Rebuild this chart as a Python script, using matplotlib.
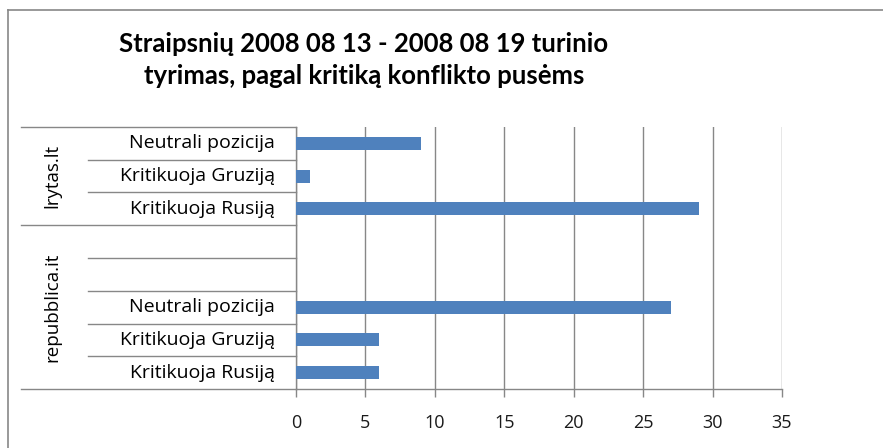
import matplotlib
matplotlib.use("Agg")
import matplotlib.pyplot as plt
from matplotlib.lines import Line2D
from matplotlib.transforms import blended_transform_factory

plt.rcParams['font.family'] = ['Open Sans', 'DejaVu Sans']

# data, top to bottom as in the chart
groups = ["lrytas.lt", "repubblica.it"]
group_sizes = [3, 5]
categories = ["Neutrali pozicija", "Kritikuoja Gruziją", "Kritikuoja Rusiją",
              "", "", "Neutrali pozicija", "Kritikuoja Gruziją", "Kritikuoja Rusiją"]
values = [9, 1, 29, None, None, 27, 6, 6]
xticks = [0, 5, 10, 15, 20, 25, 30, 35]

title = "Straipsnių 2008 08 13 - 2008 08 19 turinio\ntyrimas, pagal kritiką konflikto pusėms"

bar_color = "#4F81BD"
line_color = "#878787"

W, H = 883, 448
fig = plt.figure(figsize=(W / 100, H / 100), dpi=100)
ax = fig.add_axes([296 / W, 1 - 389 / H, (782 - 296) / W, (389 - 127) / H])

pos = list(range(len(categories)))
bar_pos = [p for p, v in zip(pos, values) if v is not None]
bar_val = [v for v in values if v is not None]
ax.barh(bar_pos, bar_val, height=0.4, color=bar_color, zorder=3)

ax.set_ylim(len(categories) - 0.5, -0.5)
ax.set_xlim(0, 35)
ax.set_xticks(xticks)
ax.set_xticklabels([str(t) for t in xticks], fontsize=13, color="#1a1a1a")
ax.tick_params(axis='x', direction='out', length=6, width=1, color=line_color, pad=12)
ax.set_yticks([])
ax.grid(axis='x', color=line_color, linewidth=1, zorder=0)
for side in ['top', 'right']:
    ax.spines[side].set_visible(False)
for side in ['left', 'bottom']:
    ax.spines[side].set_color(line_color)
    ax.spines[side].set_linewidth(1)

# multi level category table on the left
axw = 782 - 296
x_inner = (88 - 296) / axw
x_outer = (21 - 296) / axw
x_label = (275 - 296) / axw
x_group = (52 - 296) / axw
tr = blended_transform_factory(ax.transAxes, ax.transData)

for p, c in zip(pos, categories):
    if c:
        ax.text(x_label, p, c, transform=tr, ha='right', va='center', fontsize=14)

start = 0
edges = [-0.5]
for g, n in zip(groups, group_sizes):
    for k in range(1, n):
        ax.add_line(Line2D([x_inner, 0], [start + k - 0.5] * 2, transform=tr,
                           color=line_color, linewidth=1, clip_on=False))
    ax.text(x_group, start + (n - 1) / 2, g, transform=tr, rotation=90,
            ha='center', va='center', fontsize=13.5)
    start += n
    edges.append(start - 0.5)
for e in edges:
    ax.add_line(Line2D([x_outer, 0], [e, e], transform=tr,
                       color=line_color, linewidth=1, clip_on=False))

# chart border (top and left edges visible)
fig.add_artist(Line2D([8 / W, 1.0], [1 - 10 / H] * 2, color=line_color, linewidth=1.2))
fig.add_artist(Line2D([8 / W] * 2, [0.0, 1 - 10 / H], color=line_color, linewidth=1.2))

fig.text(364 / W, 1 - 60 / H, title, ha='center', va='center', fontsize=18.5,
         fontweight='bold', linespacing=1.38, family=['Lato', 'DejaVu Sans'])

fig.savefig("out.png", dpi=100)
